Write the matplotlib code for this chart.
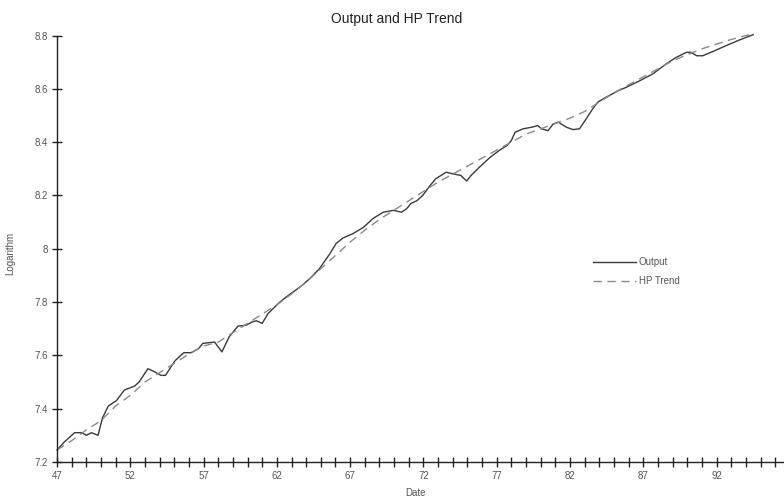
import numpy as np
import matplotlib.pyplot as plt
from matplotlib.ticker import FuncFormatter

plt.rcParams['font.family'] = ['Liberation Sans', 'DejaVu Sans']

out_year = [47.0, 47.5, 48.2, 48.7, 49.0, 49.35, 49.8, 50.1, 50.5, 51.05,
            51.6, 52.3, 52.6, 53.2, 53.6, 54.1, 54.4, 55.05, 55.65, 56.15,
            56.65, 56.95, 57.75, 58.25, 58.75, 59.35, 59.9, 60.3, 60.6, 61.0,
            61.4, 62.2, 62.9, 63.6, 64.25, 64.9, 65.6, 66.05, 66.5, 67.2,
            67.9, 68.55, 69.25, 69.95, 70.5, 70.85, 71.15, 71.55, 71.95, 72.45,
            72.85, 73.55, 74.1, 74.55, 74.95, 75.25, 75.8, 76.55, 77.2, 77.7,
            78.0, 78.25, 78.8, 79.4, 79.8, 80.05, 80.5, 80.85, 81.2, 81.4,
            81.75, 82.2, 82.65, 83.1, 83.55, 83.9, 84.45, 85.3, 85.85, 86.75,
            87.65, 88.55, 89.25, 89.95, 90.25, 90.65, 91.05, 91.75, 92.65, 93.55,
            94.5]
output = [7.245, 7.275, 7.31, 7.31, 7.30, 7.31, 7.30, 7.365, 7.41, 7.43,
          7.47, 7.485, 7.50, 7.55, 7.54, 7.525, 7.525, 7.58, 7.61, 7.61,
          7.625, 7.645, 7.65, 7.613, 7.67, 7.71, 7.713, 7.725, 7.73, 7.72,
          7.757, 7.80, 7.83, 7.857, 7.888, 7.925, 7.98, 8.02, 8.04, 8.057,
          8.08, 8.113, 8.137, 8.144, 8.137, 8.15, 8.17, 8.18, 8.20, 8.237,
          8.263, 8.287, 8.28, 8.275, 8.254, 8.275, 8.305, 8.343, 8.37, 8.387,
          8.406, 8.437, 8.45, 8.456, 8.462, 8.45, 8.443, 8.468, 8.475, 8.468,
          8.456, 8.447, 8.45, 8.487, 8.525, 8.55, 8.568, 8.593, 8.606, 8.63,
          8.656, 8.693, 8.718, 8.737, 8.737, 8.724, 8.724, 8.74, 8.762, 8.783,
          8.803]

# Hodrick-Prescott trend, yearly
trend_year = [47, 48, 49, 50, 51, 52, 53, 54, 55, 56, 57, 58, 59, 60, 61, 62,
              63, 64, 65, 66, 67, 68, 69, 70, 71, 72, 73, 74, 75, 76, 77, 78,
              79, 80, 81, 82, 83, 84, 85, 86, 87, 88, 89, 90, 91, 92, 93, 94,
              94.5]
trend = [7.245, 7.28, 7.32, 7.355, 7.41, 7.45, 7.50, 7.535, 7.57, 7.605,
         7.635, 7.65, 7.685, 7.72, 7.755, 7.79, 7.83, 7.875, 7.925, 7.975,
         8.025, 8.07, 8.11, 8.145, 8.18, 8.215, 8.25, 8.28, 8.31, 8.34,
         8.37, 8.40, 8.43, 8.45, 8.47, 8.49, 8.515, 8.55, 8.585, 8.615,
         8.645, 8.675, 8.705, 8.728, 8.75, 8.768, 8.785, 8.8, 8.806]

fig = plt.figure(figsize=(7.84, 5.01), dpi=100)
ax = fig.add_axes([57/784, 39/501, 727/784, 426.5/501])

ax.plot(out_year, output, color='#3a3a3a', lw=1.0, label='Output',
        clip_on=False)
ax.plot(trend_year, trend, color='#8a8a8a', lw=1.0, ls=(0, (6, 4)),
        label='HP Trend', clip_on=False)

ax.set_xlim(47, 96.6)
ax.set_ylim(7.2, 8.8)
ax.spines['top'].set_visible(False)
ax.spines['right'].set_visible(False)
for s in ['left', 'bottom']:
    ax.spines[s].set_linewidth(1.0)
    ax.spines[s].set_color('#222222')

years = np.arange(47, 97)
ax.set_xticks(years)
ax.set_xticklabels([str(y) if (y - 47) % 5 == 0 else '' for y in years])
ax.set_yticks(np.arange(7.2, 8.81, 0.2))
ax.yaxis.set_major_formatter(FuncFormatter(lambda v, p: '%g' % round(v, 1)))
ax.tick_params(direction='inout', length=7, width=1.0, color='#222222',
               labelsize=7, labelcolor='#555555', pad=3)

ax.set_xlabel('Date', fontsize=7, color='#555555')
ax.xaxis.set_label_coords((415 - 57) / 727, -0.062)
ax.set_ylabel('Logarithm', fontsize=7, color='#555555')
ax.yaxis.set_label_coords(-0.058, 0.49)

fig.text(397/784, 0.962, 'Output and HP Trend', ha='center', va='center',
         fontsize=10, color='#222222')

leg = ax.legend(loc='upper left', bbox_to_anchor=((593 - 57) / 727, 0.48),
                frameon=False, fontsize=7, handlelength=4.4,
                handletextpad=0.3, labelspacing=0.9, borderpad=0,
                borderaxespad=0)
for t in leg.get_texts():
    t.set_color('#555555')

fig.savefig('out.png', dpi=100)
